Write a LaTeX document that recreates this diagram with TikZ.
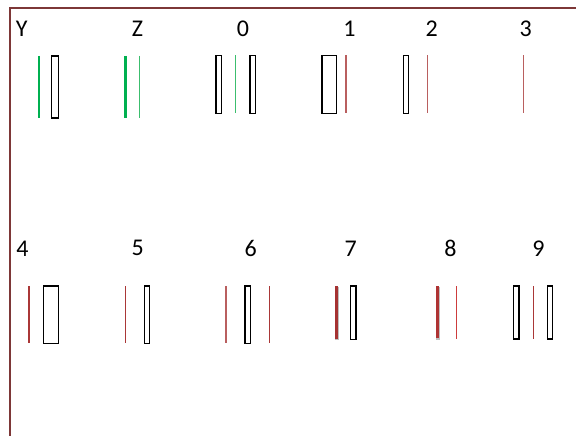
\documentclass[tikz,border=0pt]{standalone}
\usepackage{fontspec}
\setmainfont{Carlito}
\definecolor{frame}{RGB}{125,55,55}
\definecolor{gthick}{RGB}{0,176,80}
\definecolor{gthin}{RGB}{60,190,110}
\definecolor{rpale}{RGB}{185,95,95}
\definecolor{rmid}{RGB}{170,55,55}
\definecolor{rdark}{RGB}{165,50,50}
\definecolor{rbright}{RGB}{205,60,60}
\tikzset{
  lbl/.style={font=\fontsize{24}{28}\selectfont, inner sep=0pt, anchor=center},
  bar/.style={draw=black, line width=1.1pt, fill=white},
  thickg/.style={draw=gthick, line width=2.6pt},
  thing/.style={draw=gthin, line width=1.2pt},
  thinr/.style={draw=rpale, line width=1.2pt},
  thinrm/.style={draw=rmid, line width=1.1pt},
  thickr/.style={draw=rdark, line width=2.6pt},
  thickr2/.style={draw=rbright!85!black, line width=2.6pt},
  thinrb/.style={draw=rbright, line width=1.2pt},
  shadow/.style={draw=black!25, line width=3.2pt}
}
\begin{document}
\begin{tikzpicture}[x=1pt,y=-1pt]
\useasboundingbox (0,0) rectangle (576,436);
\fill[white] (0,0) rectangle (576,436);
% frame
\draw[frame, line width=1.2pt] (576,8) -- (10,8) -- (10,436);
% labels
\node[lbl] (lY) at (21.7,28.5) {Y};
\node[lbl] (lZ) at (137.5,28.5) {Z};
\node[lbl] (l0) at (243,28.5) {0};
\node[lbl] (l1) at (349.5,28.5) {1};
\node[lbl] (l2) at (431.7,28.5) {2};
\node[lbl] (l3) at (525.8,28.5) {3};
\node[lbl] (l4) at (22.5,248.3) {4};
\node[lbl] (l5) at (137.8,248.3) {5};
\node[lbl] (l6) at (250.8,248.3) {6};
\node[lbl] (l7) at (350.8,248.3) {7};
\node[lbl] (l8) at (450.5,248.3) {8};
\node[lbl] (l9) at (538.5,248.3) {9};
% Y
\draw[thickg] (39,56) -- (39,118);
\draw[bar] (51.3,56) rectangle (58.3,118);
% Z
\draw[thickg] (125.7,56) -- (125.7,118);
\draw[thing] (139.5,56) -- (139.5,118);
% 0
\draw[bar] (216,55.3) rectangle (221.7,113.3);
\draw[thing] (235.7,55.3) -- (235.7,113.3);
\draw[bar] (250,55.3) rectangle (255.3,113.3);
% 1
\draw[bar] (322,55.3) rectangle (336.7,113.3);
\draw[thinr] (346,55.3) -- (346,113.3);
% 2
\draw[bar] (403.7,55.3) rectangle (408.7,113.3);
\draw[thinr] (427.7,55.3) -- (427.7,113.3);
% 3
\draw[thinr] (523.7,55.3) -- (523.7,113.3);
% 4
\draw[thinrm] (29,286) -- (29,343.3);
\draw[bar] (43.3,286) rectangle (58.3,343.3);
% 5
\draw[thinrm] (125.3,286) -- (125.3,343.3);
\draw[bar] (144.3,286) rectangle (149.7,343.3);
% 6
\draw[thinr] (226,286) -- (226,343.3);
\draw[bar] (245,286) rectangle (250.3,343.3);
\draw[thinrm] (269.3,286) -- (269.3,343.3);
% 7
\draw[shadow] (337,287) -- (337,340);
\draw[thickr] (336.3,286) -- (336.3,339);
\draw[bar] (350.7,286) rectangle (356,339.3);
% 8
\draw[shadow] (438,287) -- (438,339.5);
\draw[thickr2] (437.3,286) -- (437.3,338.3);
\draw[thinrb] (456.3,286) -- (456.3,339);
% 9
\draw[bar] (513.7,286) rectangle (519,339);
\draw[thinrm] (533.3,286) -- (533.3,339);
\draw[bar] (547.3,286) rectangle (552.7,339);
\end{tikzpicture}
\end{document}
